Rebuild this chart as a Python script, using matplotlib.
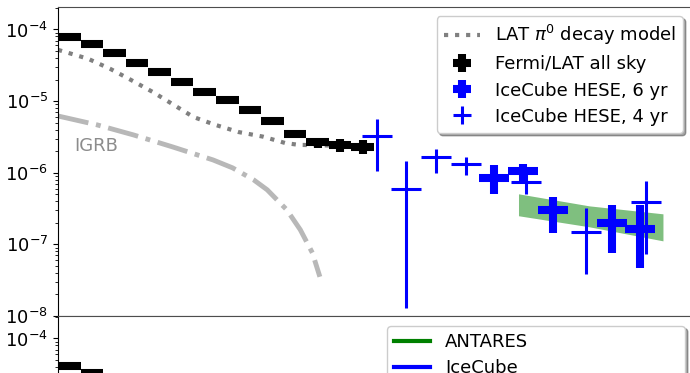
import numpy as np
import matplotlib
matplotlib.use("Agg")
import matplotlib.pyplot as plt

# ---- data (energies as log10 E) ----
# Fermi/LAT all sky, bins
fermi_loge_lo = [2.00, 2.15, 2.30, 2.45, 2.60, 2.75, 2.90, 3.05, 3.20, 3.35, 3.50, 3.65, 3.80, 3.95]
fermi_loge_hi = [2.15, 2.30, 2.45, 2.60, 2.75, 2.90, 3.05, 3.20, 3.35, 3.50, 3.65, 3.80, 3.95, 4.10]
fermi_flux = [7.8e-5, 6.3e-5, 4.75e-5, 3.45e-5, 2.53e-5, 1.87e-5, 1.36e-5,
              1.04e-5, 7.5e-6, 5.3e-6, 3.5e-6, 2.65e-6, 2.45e-6, 2.32e-6]
fermi_relerr = [0.02, 0.02, 0.02, 0.02, 0.02, 0.03, 0.03, 0.03, 0.04, 0.05, 0.08, 0.17, 0.2, 0.22]

# LAT pi0 decay model
pi0_loge = [2.00, 2.20, 2.35, 2.48, 2.63, 2.76, 2.90, 3.04, 3.20, 3.36, 3.51, 3.60, 3.81, 4.10]
pi0_flux = [5.2e-5, 3.9e-5, 2.8e-5, 2.0e-5, 1.34e-5, 9.1e-6, 6.0e-6,
            4.7e-6, 3.7e-6, 3.2e-6, 2.6e-6, 2.45e-6, 2.4e-6, 2.35e-6]

# IGRB
igrb_loge = [2.00, 2.26, 2.50, 2.76, 3.03, 3.16, 3.30, 3.39, 3.52, 3.61, 3.69, 3.74]
igrb_flux = [6.2e-6, 4.66e-6, 3.38e-6, 2.3e-6, 1.51e-6, 1.17e-6, 7.96e-7, 5.78e-7,
             3.04e-7, 1.6e-7, 7.64e-8, 3.53e-8]

# IceCube HESE 6 yr
hese6_loge = [4.90, 5.09, 5.29, 5.68, 5.87]
hese6_flux = [8.5e-7, 1.05e-6, 3.04e-7, 2.0e-7, 1.65e-7]
hese6_hi = [1.29e-6, 1.33e-6, 4.61e-7, 3.56e-7, 3.56e-7]
hese6_lo = [5.08e-7, 7.5e-7, 1.45e-7, 7.64e-8, 4.72e-8]

# IceCube HESE 4 yr
hese4_loge = [4.12, 4.31, 4.51, 4.71, 5.11, 5.51, 5.91]
hese4_flux = [3.27e-6, 5.96e-7, 1.67e-6, 1.33e-6, 7.34e-7, 1.5e-7, 3.93e-7]
hese4_hi = [5.65e-6, 1.47e-6, 2.16e-6, 1.67e-6, 9.97e-7, 3.24e-7, 7.71e-7]
hese4_lo = [1.06e-6, 1.3e-8, 9.97e-7, 9.35e-7, 5.08e-7, 3.89e-8, 7.4e-8]
hese_halfwidth = 0.1

# ANTARES band
antares_loge = [5.06, 5.53, 6.02]
antares_hi = [5.08e-7, 3.45e-7, 2.67e-7]
antares_lo = [2.51e-7, 1.76e-7, 1.12e-7]

# lower panel (only top part visible)
low_fermi_flux = [4.13e-5, 3.3e-5]

XLIM = (10**2.0, 10**6.213)
YLIM = (1e-8, 2.06e-4)


def fermi_bars(ax, flux, n):
    lo = np.array(fermi_loge_lo[:n])
    hi = np.array(fermi_loge_hi[:n])
    xc = 10**((lo + hi) / 2)
    xerr = [xc - 10**lo, 10**hi - xc]
    y = np.array(flux[:n])
    yerr = y * np.array(fermi_relerr[:n])
    return ax.errorbar(xc, y, xerr=xerr, yerr=yerr, fmt='none', ecolor='k',
                       elinewidth=5.8, zorder=4, label='Fermi/LAT all sky')


def hese_bars(ax, loge, flux, lo, hi, lw, label):
    loge = np.array(loge)
    xc = 10**loge
    xerr = [xc - 10**(loge - hese_halfwidth), 10**(loge + hese_halfwidth) - xc]
    y = np.array(flux)
    yerr = [y - np.array(lo), np.array(hi) - y]
    return ax.errorbar(xc, y, xerr=xerr, yerr=yerr, fmt='none', ecolor='b',
                       elinewidth=lw, zorder=5, label=label)


fig = plt.figure(figsize=(6.9, 3.73), dpi=100)
ax1 = fig.add_axes([0.0841, 0.1528, 0.9188, 0.8284])
ax2 = fig.add_axes([0.0841, -0.6756, 0.9188, 0.8284])

for ax in (ax1, ax2):
    ax.set_xscale('log')
    ax.set_yscale('log')
    ax.set_xlim(*XLIM)
    ax.set_ylim(*YLIM)
    ax.tick_params(axis='x', which='both', bottom=False, top=False, labelbottom=False)
    ax.tick_params(axis='y', which='major', labelsize=13)
    for s in ('top', 'bottom'):
        ax.spines[s].set_color('0.3')

# lower panel: only the top label is on the canvas
ax2.set_yticks([1e-4])
ax2.set_ylim(*YLIM)

# ---- upper panel ----
l_pi0, = ax1.plot(10**np.array(pi0_loge), pi0_flux, ls=':', color='gray', lw=3,
                  zorder=2, label=r'LAT $\pi^0$ decay model')
ax1.plot(10**np.array(igrb_loge), igrb_flux, ls='-.', color='0.72', lw=3.5, zorder=2)
ax1.text(10**2.106, 2.4e-6, 'IGRB', color='0.55', fontsize=13, va='center', ha='left')

ax1.fill_between(10**np.array(antares_loge), antares_lo, antares_hi,
                 color='green', alpha=0.5, lw=0, zorder=3)

e_fermi = fermi_bars(ax1, fermi_flux, len(fermi_flux))
e6 = hese_bars(ax1, hese6_loge, hese6_flux, hese6_lo, hese6_hi, 5.8, 'IceCube HESE, 6 yr')
e4 = hese_bars(ax1, hese4_loge, hese4_flux, hese4_lo, hese4_hi, 2.2, 'IceCube HESE, 4 yr')

ax1.legend(handles=[l_pi0, e_fermi, e6, e4], loc='upper right', fontsize=13,
           labelspacing=0.45, shadow=True)

# ---- lower panel ----
fermi_bars(ax2, low_fermi_flux, len(low_fermi_flux))
h_ant, = ax2.plot([], [], color='green', lw=3, label='ANTARES')
h_ic, = ax2.plot([], [], color='b', lw=3, label='IceCube')
ax2.legend(handles=[h_ant, h_ic], loc='upper left', bbox_to_anchor=(0.519, 0.968, 0.470, 0),
           mode='expand', borderaxespad=0, fontsize=13, labelspacing=0.45, shadow=True)

fig.savefig('out.png', dpi=100)
